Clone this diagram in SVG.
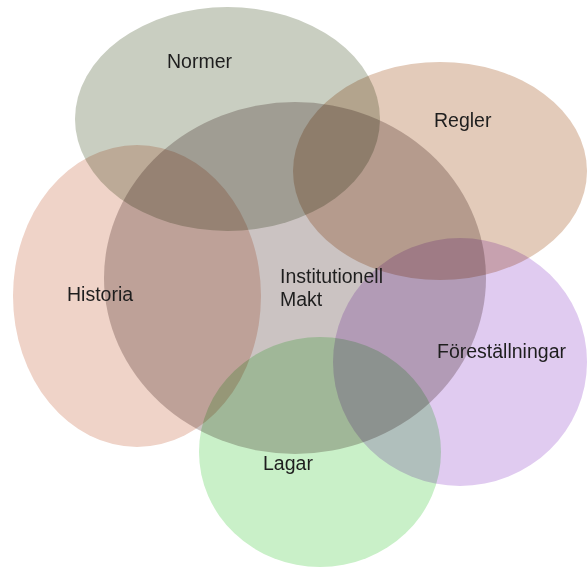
<svg xmlns="http://www.w3.org/2000/svg" width="588" height="567" viewBox="0 0 588 567">
  <style>
    .blob { mix-blend-mode: multiply; stroke: none; }
    .label { font-family: "Liberation Sans", Arial, sans-serif; font-size: 19.5px; fill: #1e1e1e; }
  </style>
  <rect x="0" y="0" width="588" height="567" fill="#ffffff"/>

  <g id="makt">
    <ellipse class="blob" cx="295" cy="278" rx="191" ry="176" fill="#cbc3c2"/>
  </g>
  <g id="normer">
    <ellipse class="blob" cx="227.5" cy="119" rx="152.5" ry="112" fill="#c9cec1"/>
  </g>
  <g id="regler">
    <ellipse class="blob" cx="440" cy="171" rx="147" ry="109" fill="#e3cbba"/>
  </g>
  <g id="historia">
    <ellipse class="blob" cx="137" cy="296" rx="124" ry="151" fill="#efd3c8"/>
  </g>
  <g id="forestallningar">
    <ellipse class="blob" cx="460" cy="362" rx="127" ry="124" fill="#e0cbf0"/>
  </g>
  <g id="lagar">
    <ellipse class="blob" cx="320" cy="452" rx="121" ry="115" fill="#c9f0c8"/>
  </g>

  <g id="labels">
    <text class="label" x="167" y="68">Normer</text>
    <text class="label" x="434" y="127">Regler</text>
    <text class="label" x="67" y="301">Historia</text>
    <text class="label" x="280" y="283">Institutionell</text>
    <text class="label" x="280" y="306">Makt</text>
    <text class="label" x="437" y="358">Föreställningar</text>
    <text class="label" x="263" y="470">Lagar</text>
  </g>
</svg>
